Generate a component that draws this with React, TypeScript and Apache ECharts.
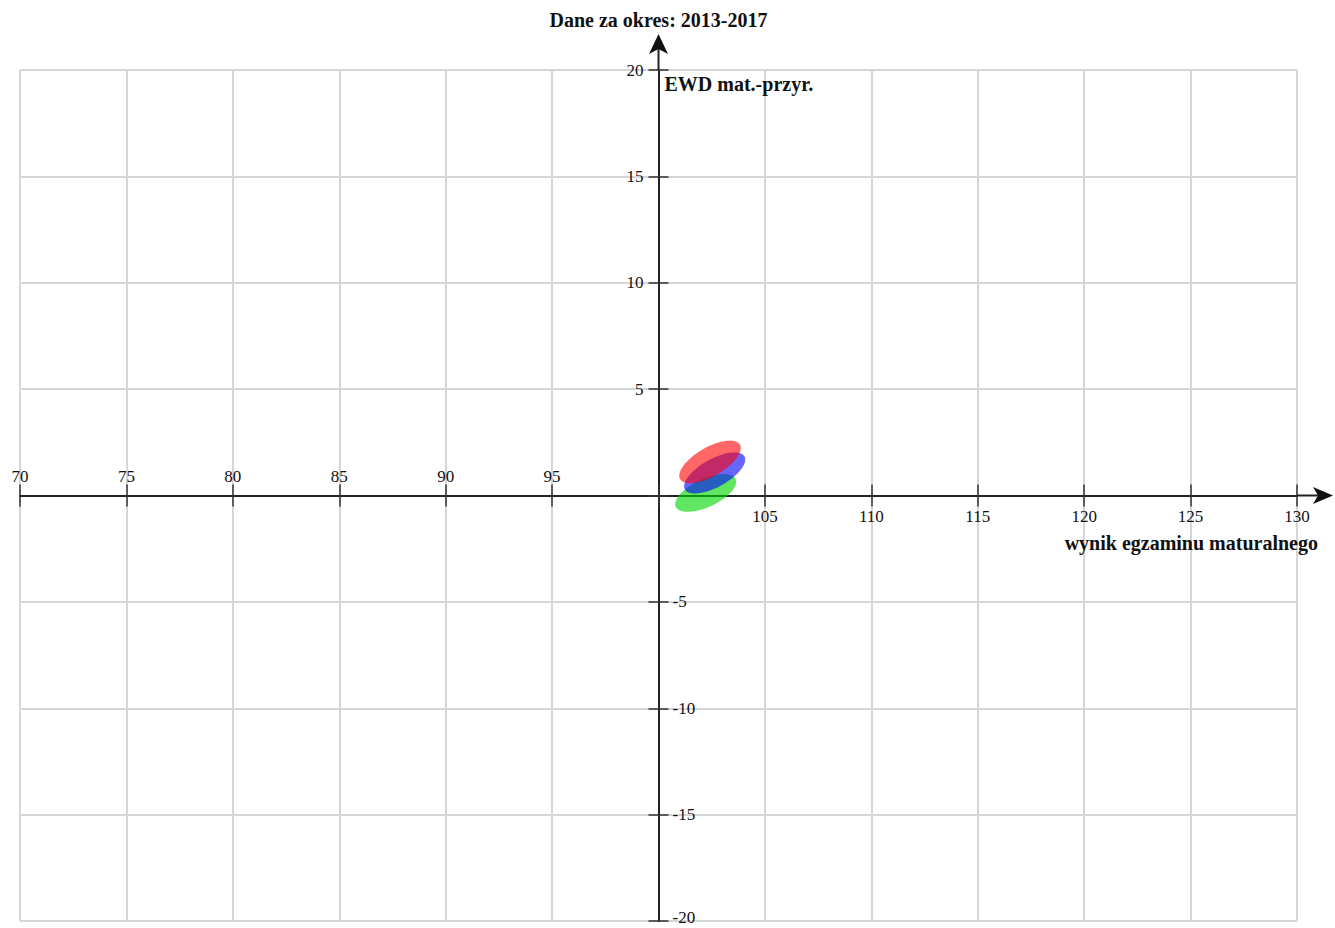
import React, { useEffect, useRef } from "react";
import * as echarts from "echarts";

// ---- axes ----
const xMin = 70;
const xMax = 130;
const xStep = 5;
const yMin = -20;
const yMax = 20;
const yStep = 5;
const xOrigin = 100; // x value where the vertical axis crosses
const yOrigin = 0; // y value where the horizontal axis crosses

// ---- texts ----
const titleText = "Dane za okres: 2013-2017";
const yAxisTitle = "EWD mat.-przyr.";
const xAxisTitle = "wynik egzaminu maturalnego";

// ---- ellipses: [centerX, centerY, semiMajor, semiMinor, angleDeg] ----
const seriesNames = ["zielona", "niebieska", "czerwona"];
const ellipseGreen = [102.22, 0.12, 1.55, 0.66, 25];
const ellipseBlue = [102.64, 1.06, 1.6, 0.66, 29];
const ellipseRed = [102.42, 1.58, 1.62, 0.68, 30];
const ellipseData = [ellipseGreen, ellipseBlue, ellipseRed];
const ellipseColors = ["rgba(0,215,0,0.62)", "rgba(0,0,255,0.6)", "rgba(255,0,0,0.6)"];

const FONT = '"Liberation Serif", "Times New Roman", serif';

export default function App() {
  const ref = useRef<HTMLDivElement>(null);

  useEffect(() => {
    document.body.style.margin = "0";
    if (!ref.current) return;
    const chart = echarts.init(ref.current, null, { renderer: "svg" });

    const gridLeft = 20;
    const gridTop = 70;
    const gridWidth = 1277;
    const gridHeight = 851;
    const leftOffset = -((xOrigin - xMin) / (xMax - xMin)) * gridWidth;
    const rightOffset = -((xMax - xOrigin) / (xMax - xMin)) * gridWidth;
    const bottomOffset = -((yOrigin - yMin) / (yMax - yMin)) * gridHeight;
    const topOffset = -((yMax - yOrigin) / (yMax - yMin)) * gridHeight;

    const labelStyle = { fontFamily: FONT, fontSize: 17, color: "#111" };
    const axisLineStyle = { color: "#222", width: 2 };
    const tickStyle = { color: "#333", width: 1.5 };
    const gridLineStyle = { color: "#d6d6d6", width: 2 };

    const makeEllipseSeries = (i: number) => ({
      type: "custom",
      name: seriesNames[i],
      xAxisIndex: 0,
      yAxisIndex: 0,
      dimensions: ["x", "y", "a", "b", "angle"],
      encode: { x: 0, y: 1 },
      data: [ellipseData[i]],
      z: 10 + i,
      renderItem: (_params: any, api: any) => {
        const cx = api.value(0);
        const cy = api.value(1);
        const a = api.value(2);
        const b = api.value(3);
        const ang = (api.value(4) * Math.PI) / 180;
        const pts: number[][] = [];
        const n = 90;
        for (let k = 0; k < n; k++) {
          const t = (k / n) * Math.PI * 2;
          const dx = a * Math.cos(t) * Math.cos(ang) - b * Math.sin(t) * Math.sin(ang);
          const dy = a * Math.cos(t) * Math.sin(ang) + b * Math.sin(t) * Math.cos(ang);
          pts.push(api.coord([cx + dx, cy + dy]));
        }
        return {
          type: "polygon",
          shape: { points: pts },
          style: { fill: ellipseColors[i], stroke: "none" },
        };
      },
    });

    chart.setOption({
      animation: false,
      backgroundColor: "#ffffff",
      grid: {
        left: gridLeft,
        top: gridTop,
        width: gridWidth,
        height: gridHeight,
        containLabel: false,
        outerBoundsMode: "none",
      },
      xAxis: [
        {
          type: "value",
          min: xMin,
          max: xMax,
          interval: xStep,
          position: "bottom",
          offset: bottomOffset,
          axisLine: { show: true, onZero: false, lineStyle: axisLineStyle },
          axisTick: { show: true, length: 11, lineStyle: tickStyle },
          axisLabel: {
            ...labelStyle,
            margin: 12,
            formatter: (v: number) => (v > xOrigin ? String(v) : ""),
          },
          splitLine: { show: true, lineStyle: gridLineStyle },
        },
        {
          type: "value",
          min: xMin,
          max: xMax,
          interval: xStep,
          position: "top",
          offset: topOffset,
          axisLine: { show: true, onZero: false, lineStyle: axisLineStyle },
          axisTick: { show: true, length: 11, lineStyle: tickStyle },
          axisLabel: {
            ...labelStyle,
            margin: 11,
            formatter: (v: number) => (v < xOrigin ? String(v) : ""),
          },
          splitLine: { show: false },
        },
      ],
      yAxis: [
        {
          type: "value",
          min: yMin,
          max: yMax,
          interval: yStep,
          position: "left",
          offset: leftOffset,
          axisLine: { show: true, onZero: false, lineStyle: axisLineStyle },
          axisTick: { show: true, length: 10, lineStyle: tickStyle },
          axisLabel: {
            ...labelStyle,
            margin: 15,
            formatter: (v: number) => (v > yOrigin ? String(v) : ""),
          },
          splitLine: { show: true, lineStyle: gridLineStyle },
        },
        {
          type: "value",
          min: yMin,
          max: yMax,
          interval: yStep,
          position: "right",
          offset: rightOffset,
          axisLine: { show: true, onZero: false, lineStyle: axisLineStyle },
          axisTick: { show: true, length: 10, lineStyle: tickStyle },
          axisLabel: {
            ...labelStyle,
            margin: 14,
            formatter: (v: number) =>
              v === yMin ? `{edge|${v}}` : v < yOrigin ? String(v) : "",
            rich: {
              edge: { fontFamily: FONT, fontSize: 17, color: "#111", padding: [0, 0, 7, 0] },
            },
          },
          splitLine: { show: false },
        },
      ],
      series: [0, 1, 2].map(makeEllipseSeries),
    });

    const [xEnd, y0] = chart.convertToPixel({ xAxisIndex: 0, yAxisIndex: 0 }, [xMax, yOrigin]) as number[];
    const [x0, yTop] = chart.convertToPixel({ xAxisIndex: 0, yAxisIndex: 0 }, [xOrigin, yMax]) as number[];

    const boldFont = `bold 20px ${FONT}`;
    chart.setOption({
      graphic: [
        {
          type: "line",
          shape: { x1: xEnd, y1: y0, x2: xEnd + 24, y2: y0 },
          style: { stroke: "#222", lineWidth: 2 },
          z: 20,
        },
        {
          type: "polygon",
          shape: {
            points: [
              [xEnd + 36, y0],
              [xEnd + 16, y0 - 8.5],
              [xEnd + 21, y0],
              [xEnd + 16, y0 + 8.5],
            ],
          },
          style: { fill: "#111" },
          z: 20,
        },
        {
          type: "line",
          shape: { x1: x0, y1: yTop, x2: x0, y2: yTop - 22 },
          style: { stroke: "#222", lineWidth: 2 },
          z: 20,
        },
        {
          type: "polygon",
          shape: {
            points: [
              [x0, yTop - 36],
              [x0 - 9.5, yTop - 16],
              [x0, yTop - 21],
              [x0 + 9.5, yTop - 16],
            ],
          },
          style: { fill: "#111" },
          z: 20,
        },
        {
          type: "text",
          x: x0,
          y: 20,
          style: { text: titleText, font: boldFont, fill: "#111", align: "center", verticalAlign: "middle" },
          z: 20,
        },
        {
          type: "text",
          x: x0 + 6,
          y: yTop + 14,
          style: { text: yAxisTitle, font: boldFont, fill: "#111", align: "left", verticalAlign: "middle" },
          z: 20,
        },
        {
          type: "text",
          x: xEnd + 21,
          y: y0 + 47,
          style: { text: xAxisTitle, font: boldFont, fill: "#111", align: "right", verticalAlign: "middle" },
          z: 20,
        },
      ],
    });

    return () => {
      chart.dispose();
    };
  }, []);

  return <div ref={ref} style={{ width: 1335, height: 928 }} />;
}
